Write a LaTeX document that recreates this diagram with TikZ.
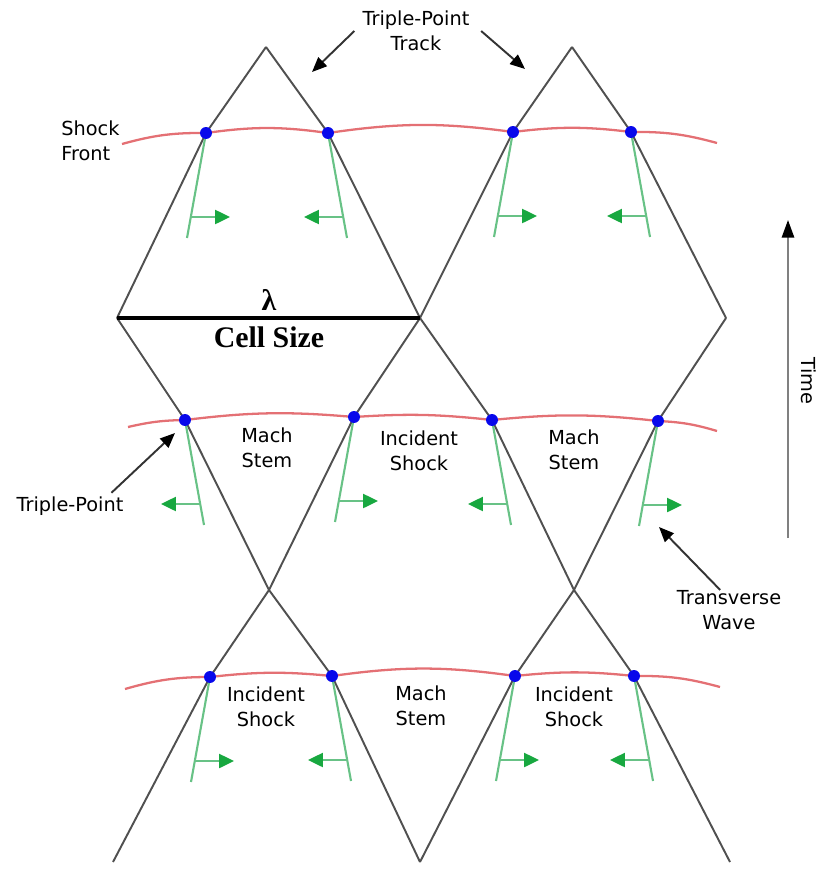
\documentclass[tikz,border=0pt]{standalone}
\usepackage{fontspec}
\setmainfont{DejaVu Sans}
\newfontfamily\cellfont{Liberation Serif}
\usetikzlibrary{arrows.meta,calc,positioning}

\definecolor{cellgrey}{RGB}{80,80,80}
\definecolor{frontred}{RGB}{228,112,116}
\definecolor{footgreen}{RGB}{104,194,134}
\definecolor{tipgreen}{RGB}{24,168,64}
\definecolor{tpblue}{RGB}{8,8,235}

\begin{document}
\begin{tikzpicture}[x=0.02cm,y=-0.02cm,
    cellline/.style={cellgrey,line width=1.1pt},
    front/.style={frontred,line width=1.3pt},
    foot/.style={footgreen,line width=1.2pt},
    footarrow/.style={footgreen,line width=1.2pt,-{Triangle[length=8.5pt,width=8pt,color=tipgreen]}},
    pointer/.style={black!80,line width=1.1pt,-{Triangle[length=8.5pt,width=7pt,color=black]}},
    lbl/.style={font=\fontsize{11}{14.2}\selectfont,align=center,inner sep=0pt},
    bigserif/.style={font=\cellfont\bfseries\fontsize{17}{20}\selectfont,inner sep=0pt}]
  \useasboundingbox (0,0) rectangle (821,869);

  % cell boundaries (triple-point tracks), bent at the triple point
  \foreach \xa/\ya/\n/\xd/\yd/\xb/\yb in {
      266/47/a1/206/133/117/318, 266/47/a2/328/133/420/318,
      572/47/a3/513/132/420/318, 572/47/a4/631/132/726/318,
      117/318/b1/185/420/269/590, 420/318/b2/354/417/269/590,
      420/318/b3/492/420/574/590, 726/318/b4/658/421/574/590,
      269/590/c1/210/677/113/862, 269/590/c2/332/676/420/862,
      574/590/c3/515/676/420/862, 574/590/c4/634/676/730/862}
  {
    \coordinate (\n) at (\xd,\yd);
    \draw[cellline] (\xa,\ya) -- (\n) -- (\xb,\yb);
  }

  % shock fronts
  \coordinate (fa0) at (122,144); \coordinate (fa5) at (717,143);
  \coordinate (fb0) at (128,427); \coordinate (fb5) at (717,431);
  \coordinate (fc0) at (125,689); \coordinate (fc5) at (720,687);
  \draw[front] (fa0) to[bend left=8] (a1) to[bend left=8] (a2) to[bend left=8] (a3)
    to[bend left=7] (a4) to[bend left=8] (fa5);
  \draw[front] (fb0) to[bend left=6] (b1) to[bend left=6] (b2) to[bend left=5] (b3)
    to[bend left=6] (b4) to[bend left=7] (fb5);
  \draw[front] (fc0) to[bend left=8] (c1) to[bend left=6] (c2) to[bend left=8] (c3)
    to[bend left=6] (c4) to[bend left=8] (fc5);

  % transverse waves
  \foreach \n/\s in {a1/-1,a2/1,a3/-1,a4/1,b1/1,b2/-1,b3/1,b4/-1,c1/-1,c2/1,c3/-1,c4/1} {
    \draw[foot] (\n) -- ++({19*\s},105);
    \draw[footarrow] ($(\n)+({15*\s},84)$) -- ++({-39*\s},0);
  }

  % triple points
  \foreach \n in {a1,a2,a3,a4,b1,b2,b3,b4,c1,c2,c3,c4}
    \fill[tpblue] (\n) circle (3.4pt);

  % cell size
  \coordinate (vl) at (117,318); \coordinate (vm) at (420,318);
  \draw[line width=2.3pt] (vl) -- (vm);
  \node[bigserif] (lambda) at (269,300) {λ};
  \node[bigserif] (cellsize) at (269,337) {Cell Size};

  % labels
  \node[lbl] (tptrack) at (416,31) {Triple-Point\\Track};
  \coordinate (tptipl) at (312,72); \coordinate (tptipr) at (525,69);
  \draw[pointer] ([xshift=-4.5pt]tptrack.west) -- (tptipl);
  \draw[pointer] ([xshift=6.5pt]tptrack.east) -- (tptipr);

  \node[lbl,align=left,anchor=west] (shockfront) at (61,141) {Shock\\Front};

  \node[lbl] (machA) at (267,448) {Mach\\Stem};
  \node[lbl] (incA) at (419,451) {Incident\\Shock};
  \node[lbl] (machB) at (574,450) {Mach\\Stem};
  \node[lbl] (incB) at (266,707) {Incident\\Shock};
  \node[lbl] (machC) at (421,706) {Mach\\Stem};
  \node[lbl] (incC) at (574,707) {Incident\\Shock};

  \node[lbl] (tplabel) at (70,506) {Triple-Point};
  \coordinate (tptip) at (175,433);
  \draw[pointer] ([xshift=-7pt,yshift=2pt]tplabel.north east) -- (tptip);

  \node[lbl] (twave) at (729,610) {Transverse\\Wave};
  \coordinate (twtip) at (659,527);
  \draw[pointer] ([xshift=-5pt]twave.north) -- (twtip);

  % time axis
  \coordinate (tbot) at (788,538); \coordinate (ttop) at (788,220);
  \draw[gray,line width=1.1pt,-{Triangle[length=10pt,width=7pt,color=black]}] (tbot) -- (ttop);
  \node[lbl,rotate=-90] (time) at (809,381) {Time};
\end{tikzpicture}
\end{document}
